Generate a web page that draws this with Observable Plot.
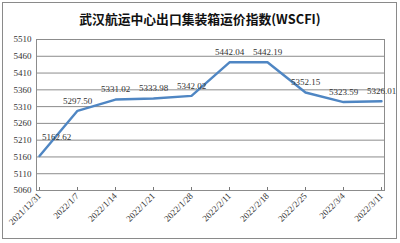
<!DOCTYPE html>
<html><head><meta charset="utf-8">
<script src="https://cdn.jsdelivr.net/npm/d3@7"></script>
<script src="https://cdn.jsdelivr.net/npm/@observablehq/plot@0.6"></script>
<style>
html,body{margin:0;padding:0;background:#fff;}
#wrap{position:relative;width:400px;height:243px;overflow:hidden;}
#frame{position:absolute;left:2px;top:2px;width:395px;height:237px;border:1px solid #8a8a8a;box-sizing:border-box;pointer-events:none;}
#title{position:absolute;left:0;top:10px;width:400px;text-align:center;font-family:"Noto Sans CJK SC",sans-serif;font-weight:bold;font-size:12.8px;color:#111;line-height:18px;}
#chart{position:absolute;left:0;top:30px;}
</style></head>
<body><div id="wrap"><div id="frame"></div><div id="title">武汉航运中心出口集装箱运价指数(WSCFI)</div><div id="chart"></div></div>
<script>
const dates = ["2021/12/31","2022/1/7","2022/1/14","2022/1/21","2022/1/28","2022/2/11","2022/2/18","2022/2/25","2022/3/4","2022/3/11"];
const values = [5162.62,5297.50,5331.02,5333.98,5342.02,5442.04,5442.19,5352.15,5323.59,5326.01];
const yTicks = [5060,5110,5160,5210,5260,5310,5360,5410,5460,5510];

const data = dates.map((d,i)=>({date:d, value:values[i], label:values[i].toFixed(2)}));
const serif = "'Liberation Serif','Times New Roman',serif";
const chart = Plot.plot({
  width: 400, height: 213,
  marginTop: 9, marginBottom: 53, marginLeft: 36, marginRight: 16,
  style: {fontFamily: serif, fontSize: "9px", color: "#333", background: "transparent"},
  x: {type: "point", domain: dates, padding: 0, label: null},
  y: {domain: [5060, 5510], ticks: yTicks, label: null},
  marks: [
    Plot.gridY(yTicks, {stroke: "#8c8c8c", strokeOpacity: 1, strokeWidth: 1}),
    Plot.frame({stroke: "#8c8c8c"}),
    Plot.tickX(dates, {x: d=>d, insetTop: 148, stroke: "#777"}),
    Plot.axisY({ticks: yTicks, tickSize: 0, tickPadding: 5, tickFormat: d=>String(d), fill:"#333", label: null}),
    Plot.axisX({tickSize: 0, tickRotate: -45, tickPadding: 4, fill:"#333", label: null}),
    Plot.line(data, {x: "date", y: "value", stroke: "#4f86c3", strokeWidth: 2.4}),
    Plot.text(data.slice(0,1), {x: "date", y: "value", text: "label", dx: 17, dy: -19, fill: "#333"}),
    Plot.text(data.slice(1), {x: "date", y: "value", text: "label", dy: -10, fill: "#333"})
  ]
});
document.getElementById("chart").appendChild(chart);
</script></body></html>
